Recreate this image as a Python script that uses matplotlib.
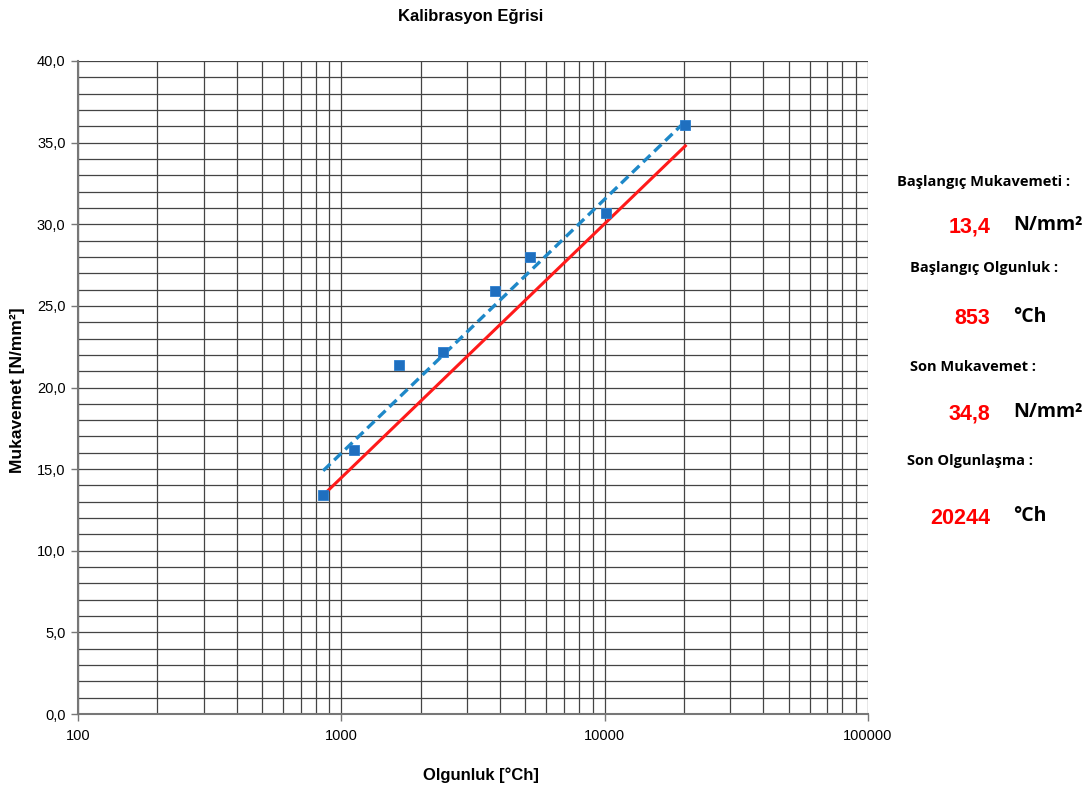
import matplotlib
matplotlib.use("Agg")
import matplotlib.pyplot as plt
from matplotlib.ticker import FixedLocator, FuncFormatter, NullFormatter, LogLocator

# Data
maturity = [853, 1117, 1660, 2427, 3846, 5227, 10115, 20244]
strength = [13.4, 16.2, 21.4, 22.2, 25.9, 28.0, 30.7, 36.1]
red_x = [853, 20244]
red_y = [13.4, 34.8]
trend_x = [853, 20244]
trend_y = [14.9, 36.3]

title = "Kalibrasyon Eğrisi"
xlabel = "Olgunluk [°Ch]"
ylabel = "Mukavemet [N/mm²]"
panel_labels = ["Başlangıç Mukavemeti :", "Başlangıç Olgunluk :", "Son Mukavemet :", "Son Olgunlaşma :"]
panel_values = ["13,4", "853", "34,8", "20244"]
panel_units = ["N/mm²", "°Ch", "N/mm²", "°Ch"]

plt.rcParams['font.family'] = ['Liberation Sans', 'DejaVu Sans']

fig = plt.figure(figsize=(10.89, 7.92), dpi=100)
ax = fig.add_axes([78/1089, 78/792, 790/1089, 653/792])

ax.set_xscale('log')
ax.set_xlim(100, 100000)
ax.set_ylim(0, 40)

# grid
ax.yaxis.set_major_locator(FixedLocator([0, 5, 10, 15, 20, 25, 30, 35, 40]))
ax.yaxis.set_minor_locator(FixedLocator(list(range(0, 41))))
ax.xaxis.set_major_locator(LogLocator(base=10, numticks=10))
ax.xaxis.set_minor_locator(LogLocator(base=10, subs=range(2, 10), numticks=100))
ax.xaxis.set_minor_formatter(NullFormatter())
ax.xaxis.set_major_formatter(FuncFormatter(lambda v, p: f"{int(round(v))}"))
ax.yaxis.set_major_formatter(FuncFormatter(lambda v, p: f"{v:.1f}".replace('.', ',')))
ax.grid(True, which='both', axis='both', color='#444444', linewidth=0.9, zorder=0)
ax.set_axisbelow(True)

ax.tick_params(axis='both', which='major', direction='out', length=5, width=1, color='#777777',
               labelsize=10.5, pad=4)
ax.tick_params(axis='both', which='minor', length=0)
ax.tick_params(axis='x', which='major', pad=6)

for s in ['top', 'right']:
    ax.spines[s].set_visible(False)
for s in ['left', 'bottom']:
    ax.spines[s].set_color('#777777')
    ax.spines[s].set_linewidth(1.5)

ax.plot(red_x, red_y, color='#ff1a1a', linewidth=2.2, zorder=3)
ax.plot(trend_x, trend_y, color='#1e88c8', linewidth=2.4, linestyle=(0, (3, 1.6)), zorder=4)
ax.plot(maturity, strength, linestyle='none', marker='s', markersize=6.5,
        markerfacecolor='#1f6fbf', markeredgecolor='#2a7fd0', markeredgewidth=0.6, zorder=5)

fig.text(471/1089, 1 - 16/792, title, ha='center', va='center', fontsize=12, fontweight='bold')
fig.text(481/1089, 1 - 775/792, xlabel, ha='center', va='center', fontsize=12, fontweight='bold')
fig.text(18/1089, 1 - 390/792, ylabel, ha='center', va='center', fontsize=12.5, fontweight='bold', rotation=90)

label_pos = [(897, 182), (910, 268), (910, 367), (907, 461)]
value_y = [227, 319, 414, 518]
for (lx, ly), lab, val, unit, vy in zip(label_pos, panel_labels, panel_values, panel_units, value_y):
    fig.text(lx/1089, 1 - ly/792, lab, ha='left', va='center', fontsize=10.5,
             fontweight='bold', family=['Open Sans', 'DejaVu Sans'])
    fig.text(990/1089, 1 - vy/792, val, ha='right', va='center', fontsize=15.5,
             fontweight='bold', color='#ff0000')
    fig.text(1013/1089, 1 - (vy - 2)/792, unit, ha='left', va='center', fontsize=14,
             fontweight='bold', family=['Open Sans', 'DejaVu Sans'])

fig.savefig('out.png', dpi=100)
